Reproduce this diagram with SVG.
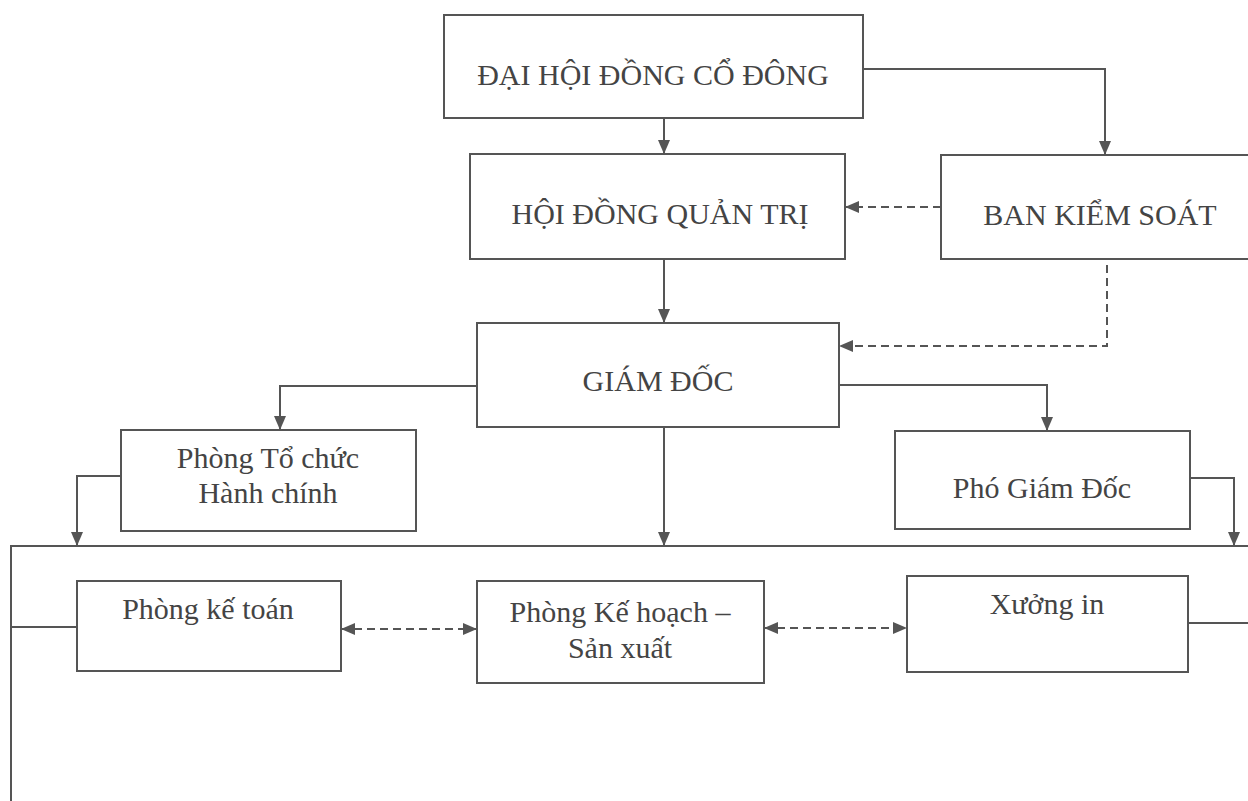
<svg xmlns="http://www.w3.org/2000/svg" width="1248" height="801" viewBox="0 0 1248 801">
<style>
.box{fill:#fff;stroke:#555;stroke-width:2}
.t{font-family:"Liberation Serif","Times New Roman",serif;font-size:30px;fill:#444;text-anchor:middle}
.c{fill:none;stroke:#555;stroke-width:2}
.a{marker-end:url(#ah)}
.d{stroke-dasharray:8 5}
.b{marker-start:url(#as);marker-end:url(#ah)}
</style>
<defs>
<marker id="ah" markerUnits="userSpaceOnUse" markerWidth="14" markerHeight="12" refX="14" refY="6" orient="auto">
<path d="M0,0 L14,6 L0,12 Z" fill="#555"/>
</marker>
<marker id="as" markerUnits="userSpaceOnUse" markerWidth="14" markerHeight="12" refX="0" refY="6" orient="auto">
<path d="M14,0 L0,6 L14,12 Z" fill="#555"/>
</marker>
</defs>
<rect width="1248" height="801" fill="#fff"/>
<g id="connectors">
<path class="c a" d="M664,118 V154"/>
<path class="c a" d="M863,69 H1105 V155"/>
<path class="c a d" d="M941,207 H845"/>
<path class="c a" d="M664,259 V323"/>
<path class="c a d" d="M1107,265 V346 H839"/>
<path class="c a" d="M477,386 H280 V430"/>
<path class="c a" d="M839,385 H1047 V431"/>
<path class="c a" d="M121,476 H77 V546"/>
<path class="c a" d="M664,427 V546"/>
<path class="c a" d="M1190,478 H1234 V546"/>
<path class="c" d="M1248,546 H11 V801"/>
<path class="c" d="M11,627 H77"/>
<path class="c" d="M1188,623 H1248"/>
<path class="c b d" d="M341,629 H477"/>
<path class="c b d" d="M764,628 H907"/>
</g>
<g id="dhdcd">
<rect class="box" x="444" y="15" width="419" height="103"/>
<text class="t" x="653" y="85">ĐẠI HỘI ĐỒNG CỔ ĐÔNG</text>
</g>
<g id="hdqt">
<rect class="box" x="470" y="154" width="375" height="105"/>
<text class="t" x="660" y="224">HỘI ĐỒNG QUẢN TRỊ</text>
</g>
<g id="bks">
<rect class="box" x="941" y="155" width="320" height="104"/>
<text class="t" x="1100" y="225">BAN KIỂM SOÁT</text>
</g>
<g id="giamdoc">
<rect class="box" x="477" y="323" width="362" height="104"/>
<text class="t" x="658" y="391">GIÁM ĐỐC</text>
</g>
<g id="tchc">
<rect class="box" x="121" y="430" width="295" height="101"/>
<text class="t" x="268" y="468">Phòng Tổ chức</text>
<text class="t" x="268" y="503">Hành chính</text>
</g>
<g id="phogd">
<rect class="box" x="895" y="431" width="295" height="98"/>
<text class="t" x="1042" y="498">Phó Giám Đốc</text>
</g>
<g id="ketoan">
<rect class="box" x="77" y="581" width="264" height="90"/>
<text class="t" x="208" y="619">Phòng kế toán</text>
</g>
<g id="khsx">
<rect class="box" x="477" y="581" width="287" height="102"/>
<text class="t" x="620" y="622">Phòng Kế hoạch –</text>
<text class="t" x="620" y="658">Sản xuất</text>
</g>
<g id="xuongin">
<rect class="box" x="907" y="576" width="281" height="96"/>
<text class="t" x="1047" y="614">Xưởng in</text>
</g>
</svg>
